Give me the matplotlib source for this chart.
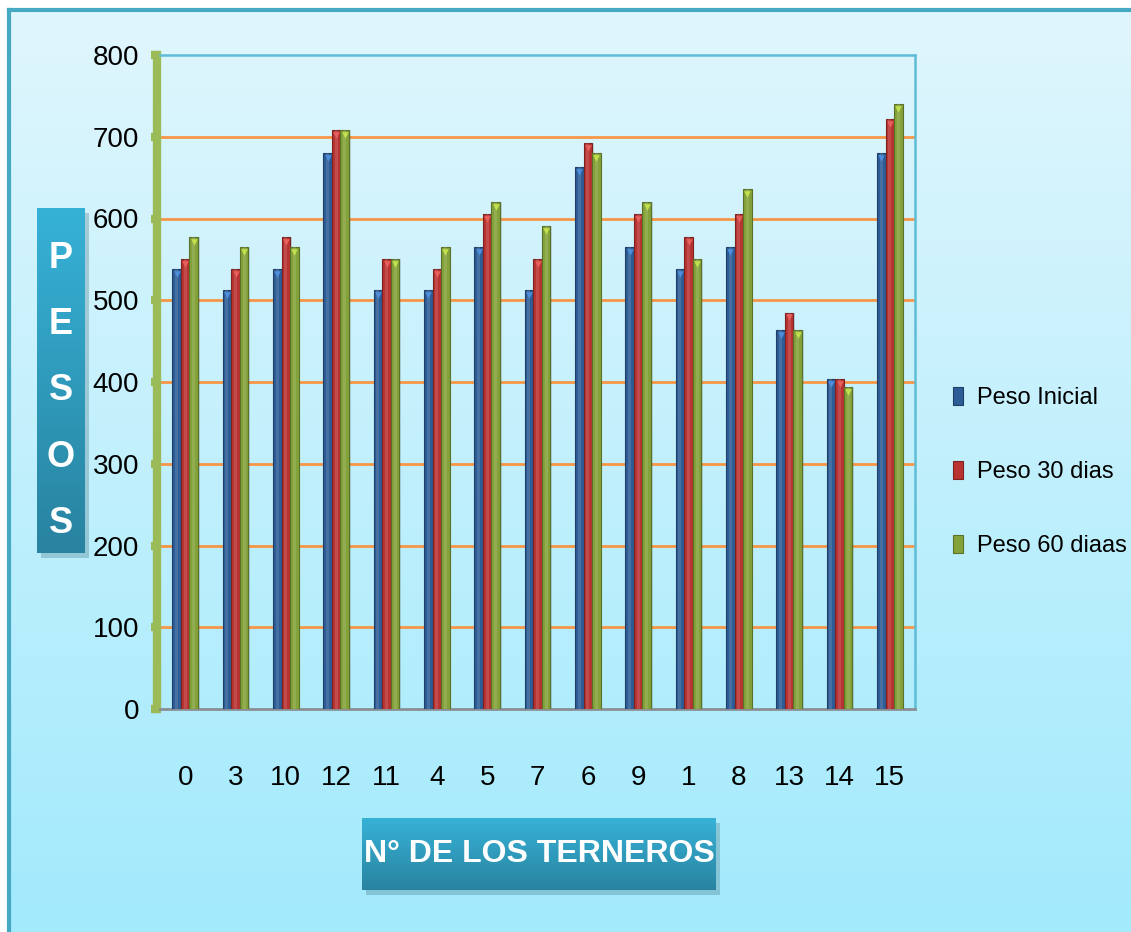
import numpy as np
import matplotlib.pyplot as plt
from matplotlib.colors import LinearSegmentedColormap
from matplotlib.patches import Rectangle

# datos
terneros = ['0', '3', '10', '12', '11', '4', '5', '7', '6', '9', '1', '8', '13', '14', '15']
peso_inicial = [538, 512, 538, 680, 512, 512, 565, 512, 663, 565, 538, 565, 464, 404, 680]
peso_30 = [550, 538, 577, 708, 550, 538, 605, 550, 692, 605, 577, 605, 485, 404, 722]
peso_60 = [577, 565, 565, 708, 550, 565, 620, 591, 680, 620, 550, 636, 464, 394, 740]
series = ['Peso Inicial', 'Peso 30 dias', 'Peso 60 diaas']
colores = ['#2d5c96', '#b83331', '#83a23a']
bordes = ['#1f3f68', '#7d2221', '#5a7127']
brillos = ['#4d8fdc', '#e8605c', '#c2e04e']

W, H = 1131, 932
fig = plt.figure(figsize=(W / 100, H / 100), dpi=100)
fig.patch.set_facecolor('white')

def fx(px):
    return px / W

def fy(py):
    return 1 - py / H

fuente = ['Liberation Sans Narrow', 'DejaVu Sans Condensed', 'Liberation Sans']

# fondo con degradado
fondo = LinearSegmentedColormap.from_list('fondo', ['#e0f6fd', '#a2eafc'])
bg = fig.add_axes([fx(9), 0, 1 - fx(9), fy(10)])
bg.set_zorder(-10)
bg.imshow(np.linspace(0, 1, 256).reshape(-1, 1), aspect='auto', cmap=fondo,
          extent=[0, 1, 0, 1], origin='upper')
bg.set_axis_off()
fig.add_artist(plt.Line2D([fx(9), 1], [fy(10), fy(10)], color='#45a9c3', lw=3, zorder=-5))
fig.add_artist(plt.Line2D([fx(9), fx(9)], [0, fy(10)], color='#45a9c3', lw=3, zorder=-5))

ax = fig.add_axes([fx(160), fy(709), fx(915 - 160), (709 - 55) / H])
ax.patch.set_alpha(0)

x = np.arange(len(terneros))
ancho = 0.17
for i, vals in enumerate([peso_inicial, peso_30, peso_60]):
    pos = x + (i - 1) * ancho
    # sombra
    ax.bar(pos + 0.03, vals, ancho, color='#000000', alpha=0.12, zorder=2)
    ax.bar(pos, vals, ancho, color=colores[i], edgecolor=bordes[i],
           linewidth=0.8, zorder=3, label=series[i])
    # brillo central
    ax.bar(pos, vals, ancho * 0.35, color='white', alpha=0.12, linewidth=0, zorder=4)
    # bisel de arriba
    ax.scatter(pos, np.array(vals) - 6, marker='v', s=22, color=brillos[i],
               linewidths=0, zorder=5)

ax.set_xlim(-0.5, 14.5)
ax.set_ylim(0, 800)
ax.set_yticks(range(0, 801, 100))
ax.set_xticks(x)
ax.set_xticklabels(terneros)
for v in range(100, 800, 100):
    ax.axhline(v, color='#f79646', lw=2, zorder=1)

ax.tick_params(axis='y', length=4, width=6, color='#9bbb59', pad=9,
               labelsize=20, labelfontfamily=fuente)
ax.tick_params(axis='x', length=0, pad=40, labelsize=20, labelfontfamily=fuente)
ax.spines['left'].set_color('#9bbb59')
ax.spines['left'].set_linewidth(6)
ax.spines['left'].set_position(('outward', 2))
ax.spines['bottom'].set_color('#8a8f94')
ax.spines['bottom'].set_linewidth(2)
for s in ['top', 'right']:
    ax.spines[s].set_color('#5ebdd6')
    ax.spines[s].set_linewidth(1.8)

leg = fig.legend(loc='center left', bbox_to_anchor=(fx(953), fy(472)), frameon=False,
                 prop={'family': fuente, 'size': 17}, borderpad=0, borderaxespad=0,
                 handlelength=0.42, handleheight=0.8, handletextpad=0.6, labelspacing=2.2)

def caja(x0, y0, x1, y1, texto, size, ty=0.5, **kw):
    fig.add_artist(Rectangle((fx(x0 + 4), fy(y1 + 5)), fx(x1 - x0), (y1 - y0) / H,
                             color='#3d6f80', alpha=0.3, zorder=-5, lw=0))
    bx = fig.add_axes([fx(x0), fy(y1), fx(x1 - x0), (y1 - y0) / H])
    cm = LinearSegmentedColormap.from_list('caja', ['#36b2d7', '#2983a0'])
    bx.imshow(np.linspace(0, 1, 256).reshape(-1, 1), aspect='auto', cmap=cm,
              extent=[0, 1, 0, 1], origin='upper')
    bx.set_axis_off()
    bx.text(0.5, ty, texto, color='white', fontsize=size, fontweight='bold',
            ha='center', va='center', transform=bx.transAxes, **kw)

caja(37, 208, 85, 553, 'P\n\nE\n\nS\n\nO\n\nS', 26, ty=0.47,
     family='Liberation Sans', linespacing=0.93)
caja(362, 818, 716, 890, 'N° DE LOS TERNEROS', 23, family=fuente)

fig.savefig('out.png', dpi=100)
